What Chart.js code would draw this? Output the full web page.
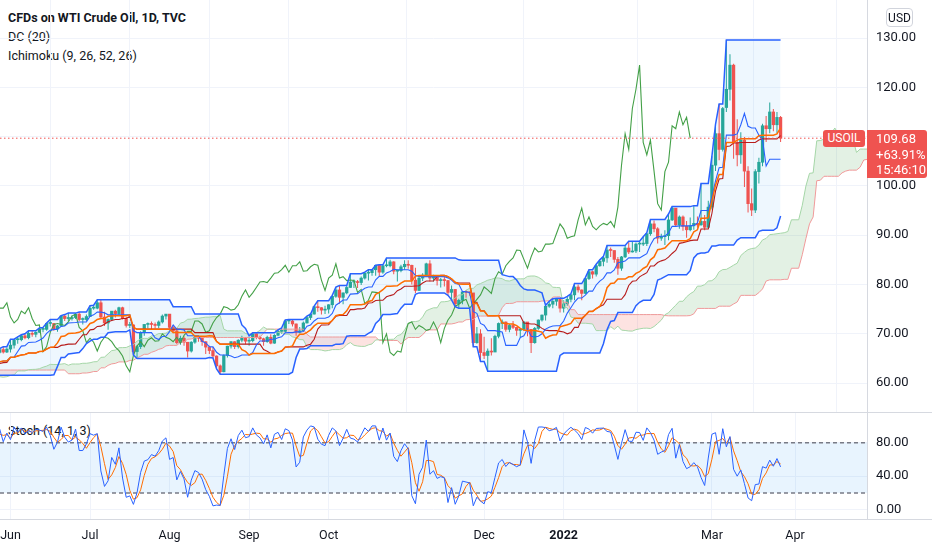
<!DOCTYPE html>
<html><head><meta charset="utf-8">
<script src="https://cdn.jsdelivr.net/npm/chart.js@4.4.1/dist/chart.umd.min.js"></script>
<style>
html,body{margin:0;padding:0;background:#fff;width:932px;height:550px;overflow:hidden;font-family:Roboto,'Noto Sans',sans-serif;color:#131722}
.pane{position:absolute;left:0;width:932px}
#mainWrap{top:0;height:412px}
#stochWrap{top:413px;height:137px}
canvas{position:absolute;left:0;top:0}
.txt{position:absolute;white-space:nowrap;font-size:12.5px;line-height:16px;color:#131722}
.sep{position:absolute;left:0;width:932px;height:1px;background:#d6d9e0}
#usd{position:absolute;left:886px;top:8px;width:26px;height:18px;border:1px solid #d1d4dc;border-radius:4px;font-size:12px;line-height:18px;text-align:center;box-sizing:border-box;width:27px;height:19px}
#symBox{position:absolute;left:823px;height:17px;width:42px;background:#ef5350;color:#fff;font-size:12px;line-height:17px;text-align:center;border-radius:3px}
#priceBox{position:absolute;left:867px;width:60px;height:48px;background:#ef5350;color:#fff;font-size:13px;line-height:15.5px;padding-left:9px;box-sizing:border-box;padding-top:1px;border-radius:0 3px 3px 0}
</style></head>
<body>
<div class="txt" style="left:8px;top:10px;font-weight:bold">CFDs on WTI Crude Oil, 1D, TVC</div>
<div class="txt" style="left:8px;top:29px">DC (20)</div>
<div class="txt" style="left:8px;top:48px">Ichimoku (9, 26, 52, 26)</div>
<div class="txt" style="left:8px;top:423px">Stoch (14, 1, 3)</div>
<div class="pane" id="mainWrap"><canvas id="main" width="932" height="412"></canvas></div>
<div class="sep" style="top:412px"></div>
<div class="pane" id="stochWrap"><canvas id="stoch" width="932" height="137"></canvas></div>
<div class="sep" style="top:519px;left:867px;width:65px"></div>
<div id="usd">USD</div>
<div id="symBox">USOIL</div>
<div id="priceBox"><div id="pLast"></div><div id="pChg"></div><div id="pTime"></div></div>
<script>
// ---------- DATA (daily bars, May 27 2021 .. Mar 28 2022) ----------
const preHigh = [58.6,58.6,58.9,58.8,59.8,60.8,60.9,61.3,62.3,60.9,61.9,62.3,63.4,63.8,63.4,62.3,60.8,61.9,64.9,66.4,68.0,65.6,64.6,66.4,66.2,66.4,65.5,65.5,64.8,61.7,62.0,61.6,61.3,61.6,61.1,61.8,61.9,60.8,61.6,61.6,61.3,59.6,60.4,60.1,60.0,60.5,60.6,63.3,63.8,63.7,64.0,63.9,62.7,62.0,62.3,62.3,63.2,64.0,65.5,65.0,64.7,66.0,66.1,65.9,65.2,66.2,65.4,66.5,66.1,65.7,66.4,66.5,65.5,64.0,64.1,66.2,66.8,66.6];
const preLow = [57.0,57.3,57.9,57.6,57.9,59.5,59.5,59.7,60.0,58.6,59.1,60.8,60.7,62.7,61.2,59.9,59.5,59.5,61.0,63.6,64.6,63.6,63.1,64.3,64.9,64.4,64.2,63.8,59.6,59.7,60.6,57.3,57.8,58.3,58.5,60.3,60.3,58.9,58.8,61.2,58.3,58.0,58.9,58.9,58.8,59.1,59.5,59.9,62.7,62.8,62.9,62.1,60.9,60.9,60.9,61.0,61.5,62.5,63.5,63.4,63.4,64.2,65.2,64.2,64.0,64.5,64.0,65.1,63.3,63.5,64.6,64.9,61.6,61.6,61.7,63.4,65.4,65.2];
const preClose = [57.97,58.36,58.68,58.24,59.47,60.2,60.05,61.14,60.52,59.24,61.70,61.67,63.22,63.53,61.50,60.64,59.75,61.28,63.83,66.09,65.05,64.01,64.44,66.02,65.61,65.39,64.80,64.60,60.00,61.42,61.55,57.76,61.18,58.56,60.97,61.56,60.55,59.16,61.45,61.45,58.65,59.33,59.77,59.60,59.32,59.70,60.18,63.15,63.46,63.13,63.38,62.44,61.35,61.43,62.14,61.91,62.94,63.86,65.01,63.58,64.49,65.69,65.63,64.71,64.90,64.92,65.28,66.08,63.82,65.37,66.27,65.49,63.36,62.05,63.58,66.05,66.07,66.21];

const open = [66.2,66.8,66.3,66.9,67.7,68.8,68.8,69.6,69.2,70.1,
69.9,70.3,70.9,70.9,72.1,72.1,71.0,71.6,73.6,73.1,
73.1,73.3,74.0,72.9,72.9,73.5,75.2,75.2,76.3,73.4,
72.2,72.9,74.6,74.1,75.3,73.1,71.7,71.8,66.4,67.4,
70.3,71.9,72.1,71.9,71.7,72.4,73.6,74.0,71.3,70.6,
68.2,69.1,68.3,66.5,68.3,69.3,69.1,68.4,67.3,66.6,
65.5,63.5,62.3,65.6,67.5,68.4,67.4,68.7,69.2,68.5,
68.6,70.0,69.3,69.0,68.4,69.3,68.1,69.7,70.5,70.5,
72.6,72.6,72.0,70.3,70.6,72.2,73.3,74.0,75.5,75.3,
74.8,75.0,75.9,77.6,78.9,77.4,78.3,79.4,80.5,80.6,
80.4,81.3,82.3,82.4,83.0,83.9,82.5,83.8,83.8,84.6,
82.7,82.8,83.6,84.1,83.9,80.9,78.8,81.3,81.9,84.2,
81.3,81.6,80.8,80.9,80.8,78.4,79.0,76.1,76.8,78.5,
78.4,78.3,68.2,70.0,66.2,65.6,66.5,66.3,69.5,72.1,
72.4,70.9,71.7,71.3,70.7,70.9,72.4,70.9,68.2,71.1,
72.8,73.8,75.6,76.0,76.6,77.0,75.2,76.1,77.0,77.9,
79.5,78.9,78.2,81.2,82.6,82.1,83.8,84.7,85.4,87.0,
86.9,85.1,83.3,85.6,87.4,86.6,86.8,88.2,88.2,88.3,
90.3,92.3,91.3,89.4,89.7,89.9,93.1,95.5,92.1,93.7,
91.8,91.1,91.9,92.4,92.1,92.8,91.6,95.7,104.2,110.6,
107.4,115.9,119.6,124.5,108.8,106.3,109.3,103.0,96.4,95.1,
102.9,104.8,112.2,111.6,115.0,112.4,113.9];
const high = [67.0,67.4,67.2,68.9,68.9,69.4,69.8,70.0,70.6,70.6,
70.5,71.2,71.3,72.2,72.9,72.2,71.8,73.7,73.9,74.2,
73.7,74.2,74.4,73.3,73.9,75.7,75.8,76.9,76.9,74.5,
73.1,74.6,74.9,75.5,75.5,73.4,72.4,71.9,67.7,70.5,
72.0,72.3,72.5,72.3,72.7,73.9,74.0,74.0,71.8,71.1,
69.6,69.5,68.3,68.5,69.5,69.6,69.2,68.5,67.6,67.3,
65.6,63.8,65.8,67.6,68.5,68.5,68.9,69.6,69.3,69.3,
70.2,70.1,69.6,69.2,69.6,69.9,69.9,70.8,71.2,72.8,
72.9,72.8,72.1,71.4,72.5,73.6,74.0,75.6,76.7,75.4,
75.7,76.0,77.8,79.5,79.8,78.4,79.8,82.2,81.0,80.9,
81.6,82.5,83.0,83.0,83.9,84.0,84.0,85.4,85.0,84.7,
83.0,84.0,84.9,84.9,84.0,83.4,81.8,82.3,84.4,84.9,
82.0,81.8,81.3,81.6,80.9,79.8,79.1,77.1,78.7,78.9,
78.6,78.3,71.4,70.9,69.4,67.0,69.1,69.8,72.3,72.9,
72.5,72.0,72.6,71.4,71.2,72.6,72.4,70.9,71.4,72.9,
73.9,75.8,76.6,77.1,77.2,77.0,76.8,77.6,78.1,80.2,
80.0,79.0,81.4,83.0,82.8,84.1,85.0,85.7,87.9,87.5,
86.9,85.6,85.8,87.9,88.8,88.8,88.5,88.8,89.7,90.5,
93.2,93.0,91.6,90.3,91.0,94.3,95.8,95.5,94.0,94.0,
92.9,93.6,96.0,93.8,100.5,94.1,97.0,106.0,112.5,116.6,
116.0,129.6,126.7,124.8,113.5,110.9,109.9,104.0,99.5,103.4,
105.7,112.6,114.2,116.9,115.6,115.0,114.2];
const low = [65.9,66.0,66.1,66.2,67.0,68.0,68.5,68.9,68.9,69.4,
69.3,70.2,70.3,70.6,71.5,70.6,70.4,71.4,72.6,72.6,
72.7,73.0,72.6,71.9,72.6,73.4,74.9,75.0,73.0,71.6,
70.8,72.6,73.3,73.6,72.9,71.3,71.2,65.7,65.0,66.9,
69.6,71.1,70.9,71.1,71.2,72.1,72.9,71.1,70.1,67.9,
67.8,67.6,65.2,66.2,68.0,68.4,67.6,65.9,65.9,65.1,
62.9,61.8,62.2,65.2,67.0,66.9,67.0,68.3,67.9,67.6,
68.3,68.9,68.7,67.6,68.2,67.9,68.0,69.5,70.0,70.2,
72.0,71.5,69.6,70.1,70.5,72.1,72.8,73.9,74.5,73.9,
74.0,74.1,75.2,77.3,76.1,76.0,78.0,79.3,79.3,79.3,
79.9,81.0,80.8,81.8,81.8,81.7,82.2,83.5,83.5,82.1,
80.6,82.5,83.0,83.2,80.0,78.3,78.7,80.7,81.6,80.6,
80.6,79.8,79.4,79.6,77.8,76.9,75.5,75.2,76.0,77.3,
77.7,67.4,68.0,64.4,64.9,62.4,65.6,66.3,69.1,71.0,
70.4,70.3,71.0,69.6,69.3,70.6,69.5,66.1,68.0,70.8,
72.5,72.7,75.3,75.2,75.7,74.3,74.3,75.7,76.4,76.8,
78.4,76.8,78.0,80.9,81.2,81.6,83.6,83.7,84.4,85.6,
84.4,82.0,82.8,85.4,86.2,86.5,86.4,86.6,87.8,87.8,
89.9,90.6,88.3,88.9,88.0,89.0,92.9,91.8,91.3,90.9,
89.5,90.8,91.1,91.5,91.9,91.0,91.5,95.2,103.0,105.2,
107.0,115.0,117.3,105.5,104.0,104.5,99.8,94.6,93.9,94.5,
100.5,104.0,108.9,110.7,111.1,110.7,108.9];
const close = [66.8,66.3,66.9,67.7,68.8,68.8,69.6,69.2,70.1,69.9,
70.3,70.9,70.9,72.1,72.1,71.0,71.6,73.6,73.1,73.1,
73.3,74.0,72.9,72.9,73.5,75.2,75.2,76.3,73.4,72.2,
72.9,74.6,74.1,75.3,73.1,71.7,71.8,66.4,67.4,70.3,
71.9,72.1,71.9,71.7,72.4,73.6,74.0,71.3,70.6,68.2,
69.1,68.3,66.5,68.3,69.3,69.1,68.4,67.3,66.6,65.5,
63.5,62.3,65.6,67.5,68.4,67.4,68.7,69.2,68.5,68.6,
70.0,69.3,69.0,68.4,69.3,68.1,69.7,70.5,70.5,72.6,
72.6,72.0,70.3,70.6,72.2,73.3,74.0,75.5,75.3,74.8,
75.0,75.9,77.6,78.9,77.4,78.3,79.4,80.5,80.6,80.4,
81.3,82.3,82.4,83.0,83.9,82.5,83.8,83.8,84.6,82.7,
82.8,83.6,84.1,83.9,80.9,78.8,81.3,81.9,84.2,81.3,
81.6,80.8,80.9,80.8,78.4,79.0,76.1,76.8,78.5,78.4,
78.3,68.2,70.0,66.2,65.6,66.5,66.3,69.5,72.1,72.4,
70.9,71.7,71.3,70.7,70.9,72.4,70.9,68.2,71.1,72.8,
73.8,75.6,76.0,76.6,77.0,75.2,76.1,77.0,77.9,79.5,
78.9,78.2,81.2,82.6,82.1,83.8,84.7,85.4,87.0,86.9,
85.1,83.3,85.6,87.4,86.6,86.8,88.2,88.2,88.3,90.3,
92.3,91.3,89.4,89.7,89.9,93.1,95.5,92.1,93.7,91.8,
91.1,91.9,92.4,92.1,92.8,91.6,95.7,104.2,110.6,107.4,
115.7,119.6,124.5,108.8,106.3,109.3,103.0,96.4,95.1,102.9,
104.8,112.2,111.6,115.0,112.4,113.9,109.68];

const monthLabels = ['Jun','Jul','Aug','Sep','Oct','Dec','2022','Mar','Apr'];
const monthIndex  = [3,25,47,69,91,134,156,197,220];
const priceTicks  = [60,70,80,90,100,110,120,130];
const stochTicks  = [0,40,80];
const stochBands  = [80,20];
const changePct   = '+63.91%';
const countdown   = '15:46:10';
const dcLen = 20, tenkanLen = 9, kijunLen = 26, spanBLen = 52, ichiShift = 25;
const stochLen = 14, stochSmooth = 3;

// ---------- derived series ----------
const P = preHigh.length;
const H = preHigh.concat(high), L = preLow.concat(low), C = preClose.concat(close);
function hiOf(a, end, n){let m=-Infinity;for(let k=Math.max(0,end-n+1);k<=end;k++)m=Math.max(m,a[k]);return m;}
function loOf(a, end, n){let m=Infinity;for(let k=Math.max(0,end-n+1);k<=end;k++)m=Math.min(m,a[k]);return m;}
const N = close.length;
const dcUp=[],dcLo=[],dcMid=[],tenkan=[],kijun=[],lag=[],spanA=[],spanB=[],kLine=[],dLine=[];
for(let i=0;i<N;i++){
  const j=i+P;
  const u=hiOf(H,j,dcLen), l=loOf(L,j,dcLen);
  dcUp.push({x:i,y:u}); dcLo.push({x:i,y:l}); dcMid.push({x:i,y:(u+l)/2});
  tenkan.push({x:i,y:(hiOf(H,j,tenkanLen)+loOf(L,j,tenkanLen))/2});
  kijun.push({x:i,y:(hiOf(H,j,kijunLen)+loOf(L,j,kijunLen))/2});
  lag.push({x:i-ichiShift,y:close[i]});
}
for(let j=spanBLen-1;j<H.length;j++){
  const x=j-P+ichiShift; if(x<-3) continue;
  const t=(hiOf(H,j,tenkanLen)+loOf(L,j,tenkanLen))/2, k=(hiOf(H,j,kijunLen)+loOf(L,j,kijunLen))/2;
  spanA.push({x,y:(t+k)/2});
  spanB.push({x,y:(hiOf(H,j,spanBLen)+loOf(L,j,spanBLen))/2});
}
const Kall=[];
for(let j=0;j<C.length;j++){
  if(j<stochLen-1){Kall.push(null);continue;}
  const hh=hiOf(H,j,stochLen), ll=loOf(L,j,stochLen);
  Kall.push(100*(C[j]-ll)/(hh-ll));
}
for(let i=0;i<N;i++){
  const j=i+P;
  kLine.push({x:i,y:Kall[j]});
  dLine.push({x:i,y:(Kall[j]+Kall[j-1]+Kall[j-2])/stochSmooth});
}

// ---------- styling ----------
const GREEN='#26a69a', RED='#ef5350', GRID='#f0f3fa', AXIS='#d6d9e0', TEXT='#131722';
const XMIN=0.1, XMAX=239.9;
Chart.defaults.font.family='Roboto, "Noto Sans", sans-serif';
const lastClose = close[N-1];
const candleCol = close.map((c,i)=> c>=open[i]?GREEN:RED);

function zeroPad(s){s.paddingTop=0;s.paddingBottom=0;s.paddingLeft=0;s.paddingRight=0;}
function monthTicksFn(s){s.ticks=monthIndex.map(v=>({value:v}));}
function line(data,color,w,extra){return Object.assign({type:'line',data,borderColor:color,borderWidth:w,pointRadius:0,tension:0,fill:false,order:1},extra||{});}

const mainChart = new Chart(document.getElementById('main'),{
  type:'bar',
  data:{datasets:[
    line(dcUp,'#2962FF',1.5,{fill:'+1',backgroundColor:'rgba(33,150,243,0.08)'}),
    line(dcLo,'#2962FF',1.5),
    line(dcMid,'#FF6D00',1.5),
    line(spanA,'#A5D6A7',1,{fill:{target:'+1',above:'rgba(67,160,71,0.15)',below:'rgba(244,67,54,0.15)'},order:3}),
    line(spanB,'#EF9A9A',1,{order:3}),
    line(tenkan,'#2962FF',1.1),
    line(kijun,'#B71C1C',1.1),
    line(lag,'#43A047',1.1),
    line([{x:XMIN,y:lastClose},{x:XMAX,y:lastClose}],RED,1,{borderDash:[1.5,2.5],order:0}),
    {type:'bar',data:close.map((c,i)=>({x:i,y:[low[i],high[i]]})),backgroundColor:candleCol,barThickness:1,grouped:false,order:5,inflateAmount:0},
    {type:'bar',data:close.map((c,i)=>({x:i,y:[open[i],c]})),backgroundColor:candleCol,barThickness:2.6,grouped:false,order:4,minBarLength:1}
  ]},
  options:{
    responsive:false,animation:false,events:[],
    layout:{padding:0},
    plugins:{legend:{display:false},tooltip:{enabled:false},filler:{drawTime:'beforeDatasetsDraw'}},
    scales:{
      x:{type:'linear',min:XMIN,max:XMAX,offset:false,
        grid:{color:GRID,drawTicks:false},border:{display:false},
        ticks:{display:false},afterBuildTicks:monthTicksFn,
        afterFit:s=>{zeroPad(s);s.height=0;}},
      y:{type:'linear',position:'right',min:54.14,max:137.71,
        grid:{color:GRID,drawTicks:false},border:{color:AXIS},
        ticks:{padding:9,color:TEXT,font:{size:13},callback:v=>v.toFixed(2)},
        afterBuildTicks:s=>{s.ticks=priceTicks.map(v=>({value:v}));},
        afterFit:s=>{zeroPad(s);s.width=65;}}
    }
  }
});

const stochChart = new Chart(document.getElementById('stoch'),{
  type:'line',
  data:{datasets:[
    line([{x:XMIN,y:stochBands[0]},{x:XMAX,y:stochBands[0]}],'#787B86',1.5,{borderDash:[4,3],fill:'+1',backgroundColor:'rgba(33,150,243,0.1)',order:3}),
    line([{x:XMIN,y:stochBands[1]},{x:XMAX,y:stochBands[1]}],'#787B86',1.5,{borderDash:[4,3],order:3}),
    line(kLine,'#2962FF',1),
    line(dLine,'#FF6D00',1)
  ]},
  options:{
    responsive:false,animation:false,events:[],
    layout:{padding:0},
    plugins:{legend:{display:false},tooltip:{enabled:false},filler:{drawTime:'beforeDatasetsDraw'}},
    scales:{
      x:{type:'linear',min:XMIN,max:XMAX,offset:false,
        grid:{color:GRID,drawTicks:false},border:{color:AXIS},
        ticks:{padding:9,color:TEXT,autoSkip:false,maxRotation:0,
          font:ctx=>({size:12.5,weight:(ctx.tick&&ctx.tick.value===monthIndex[6])?'bold':'normal'}),
          callback:v=>{const k=monthIndex.indexOf(v);return k>=0?monthLabels[k]:'';}},
        afterBuildTicks:monthTicksFn,
        afterFit:s=>{zeroPad(s);s.height=31;}},
      y:{type:'linear',position:'right',min:-11.2,max:115.4,
        grid:{color:GRID,drawTicks:false},border:{color:AXIS},
        ticks:{padding:9,color:TEXT,font:{size:13},callback:v=>v.toFixed(2)},
        afterBuildTicks:s=>{s.ticks=stochTicks.map(v=>({value:v}));},
        afterFit:s=>{zeroPad(s);s.width=65;}}
    }
  }
});

// price labels positioned through the price scale
const py = mainChart.scales.y.getPixelForValue(lastClose);
const sym = document.getElementById('symBox'); sym.style.top=(py-8)+'px';
const pb = document.getElementById('priceBox'); pb.style.top=(py-8)+'px';
document.getElementById('pLast').textContent = lastClose.toFixed(2);
document.getElementById('pChg').textContent = changePct;
document.getElementById('pTime').textContent = countdown;
</script>
</body></html>
